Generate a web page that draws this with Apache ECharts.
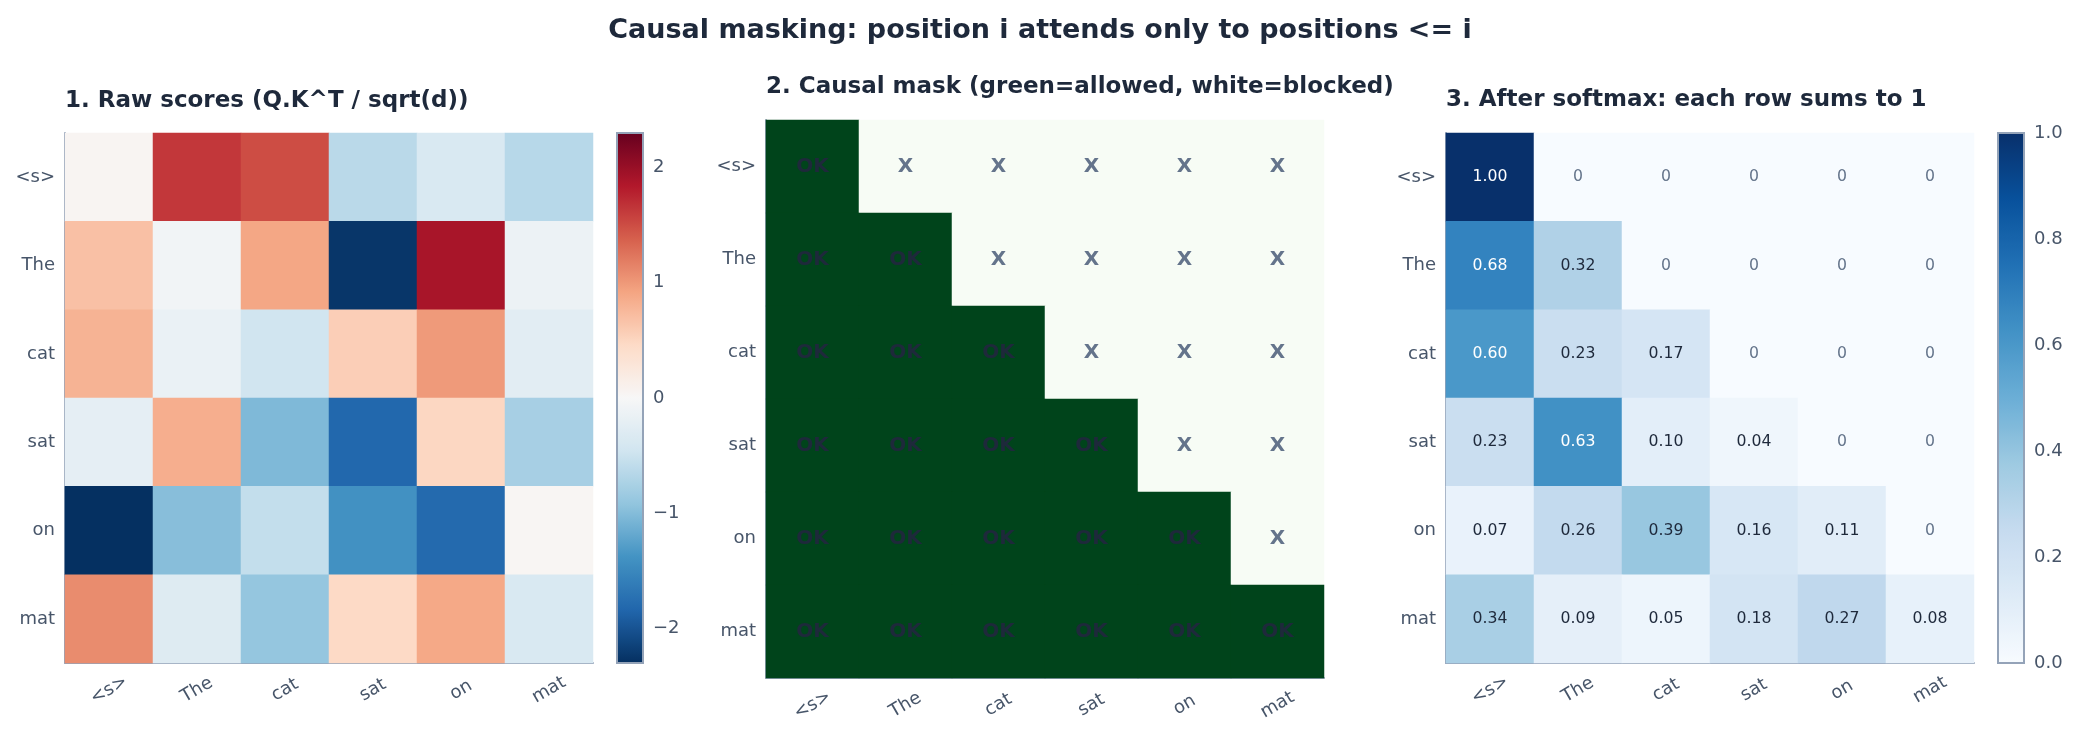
<!DOCTYPE html>
<html>
<head>
<meta charset="utf-8">
<script src="https://cdn.jsdelivr.net/npm/echarts@6/dist/echarts.min.js"></script>
<style>
html,body{margin:0;padding:0;background:#fff;}
#chart{width:2080px;height:736px;}
</style>
</head>
<body>
<div id="chart"></div>
<script>
// ---------- data ----------
const tokens = ['<s>', 'The', 'cat', 'sat', 'on', 'mat'];

const rawScores = [
  [0.05, 1.64, 1.50, -0.63, -0.36, -0.65],
  [0.69, -0.07, 0.90, -2.25, 1.90, -0.13],
  [0.80, -0.16, -0.46, 0.57, 0.99, -0.26],
  [-0.22, 0.84, -1.03, -1.82, 0.49, -0.77],
  [-2.30, -0.98, -0.56, -1.40, -1.80, 0.04],
  [1.09, -0.30, -0.90, 0.47, 0.89, -0.36]
];

const causalMask = [
  [1, 0, 0, 0, 0, 0],
  [1, 1, 0, 0, 0, 0],
  [1, 1, 1, 0, 0, 0],
  [1, 1, 1, 1, 0, 0],
  [1, 1, 1, 1, 1, 0],
  [1, 1, 1, 1, 1, 1]
];

const softmaxWeights = [
  [1.00, 0, 0, 0, 0, 0],
  [0.68, 0.32, 0, 0, 0, 0],
  [0.60, 0.23, 0.17, 0, 0, 0],
  [0.23, 0.63, 0.10, 0.04, 0, 0],
  [0.07, 0.26, 0.39, 0.16, 0.11, 0],
  [0.34, 0.09, 0.05, 0.18, 0.27, 0.08]
];

const rawColorbarTicks = [-2, -1, 0, 1, 2];
const softmaxColorbarTicks = [0, 0.2, 0.4, 0.6, 0.8, 1.0];

const mainTitle = 'Causal masking: position i attends only to positions <= i';
const panelTitles = [
  '1. Raw scores (Q.K^T / sqrt(d))',
  '2. Causal mask (green=allowed, white=blocked)',
  '3. After softmax: each row sums to 1'
];

// ---------- styles ----------
const FONT = 'DejaVu Sans';
const TITLE_C = '#1e293b';
const LABEL_C = '#475569';
const SPINE_C = '#94a3b8';
const RDBU_R = ['#053061','#2166ac','#4393c3','#92c5de','#d1e5f0','#f7f7f7','#fddbc7','#f4a582','#d6604d','#b2182b','#67001f'];
const BLUES = ['#f7fbff','#deebf7','#c6dbef','#9ecae1','#6baed6','#4292c6','#2171b5','#08519c','#08306b'];
const GREENS = ['#f7fcf5','#00441b'];
const RAW_LIM = 2.3;

const grids = [
  {left: 65, top: 133, width: 528, height: 530},   // panel 1
  {left: 617, top: 133, width: 26, height: 530, show: true, borderColor: SPINE_C, borderWidth: 2, backgroundColor: 'transparent', z: 10}, // cbar 1
  {left: 766, top: 120, width: 558, height: 558},  // panel 2
  {left: 1446, top: 133, width: 528, height: 530}, // panel 3
  {left: 1998, top: 133, width: 26, height: 530, show: true, borderColor: SPINE_C, borderWidth: 2, backgroundColor: 'transparent', z: 10} // cbar 3
];

function catX(gi) {
  return {
    type: 'category', gridIndex: gi, data: tokens,
    axisLine: {show: true, lineStyle: {color: SPINE_C, width: 2}},
    axisTick: {show: false},
    splitLine: {show: false},
    axisLabel: {rotate: 30, align: 'center', verticalAlign: 'middle', margin: 27,
      color: LABEL_C, fontFamily: FONT, fontSize: 18, interval: 0}
  };
}
function catY(gi) {
  return {
    type: 'category', gridIndex: gi, data: tokens, inverse: true,
    axisLine: {show: true, lineStyle: {color: SPINE_C, width: 2}},
    axisTick: {show: false},
    splitLine: {show: false},
    axisLabel: {margin: 10, color: LABEL_C, fontFamily: FONT, fontSize: 18, interval: 0}
  };
}
function cbX(gi) {
  return {type: 'value', gridIndex: gi, show: false, min: 0, max: 1};
}
function cbY(gi, min, max, ticks, fmt) {
  return {
    type: 'value', gridIndex: gi, min: min, max: max, position: 'right',
    axisLine: {show: false}, splitLine: {show: false},
    axisTick: {show: false},
    axisLabel: {show: true, customValues: ticks, formatter: fmt, margin: 10,
      color: LABEL_C, fontFamily: FONT, fontSize: 18}
  };
}

function matrixData(mat, itemFn) {
  const out = [];
  mat.forEach((row, r) => row.forEach((v, c) => {
    const base = {value: [c, r, v]};
    out.push(itemFn ? Object.assign(base, itemFn(v)) : base);
  }));
  return out;
}

const rawData = matrixData(rawScores);
const maskData = matrixData(causalMask, v => ({
  label: {
    show: true,
    formatter: v === 1 ? 'OK' : 'X',
    color: v === 1 ? '#1e293b' : '#64748b',
    fontWeight: 'bold', fontSize: 20, fontFamily: FONT
  }
}));
const softData = matrixData(softmaxWeights, v => ({
  label: {
    show: true,
    formatter: v === 0 ? '0' : v.toFixed(2),
    color: v === 0 ? '#64748b' : (v > 0.5 ? '#ffffff' : '#1e293b'),
    fontSize: 15.7, fontFamily: FONT
  }
}));

const option = {
  backgroundColor: '#ffffff',
  animation: false,
  title: [
    {text: mainTitle, left: 'center', top: 12, textStyle: {fontFamily: FONT, fontWeight: 'bold', color: TITLE_C, fontSize: 27, lineHeight: 27}},
    {text: panelTitles[0], left: 65, top: 90, padding: 0, textStyle: {fontFamily: FONT, fontWeight: 'bold', color: TITLE_C, fontSize: 23, lineHeight: 23}},
    {text: panelTitles[1], left: 766, top: 76, padding: 0, textStyle: {fontFamily: FONT, fontWeight: 'bold', color: TITLE_C, fontSize: 23, lineHeight: 23}},
    {text: panelTitles[2], left: 1446, top: 89, padding: 0, textStyle: {fontFamily: FONT, fontWeight: 'bold', color: TITLE_C, fontSize: 23, lineHeight: 23}}
  ],
  grid: grids,
  xAxis: [catX(0), cbX(1), catX(2), catX(3), cbX(4)],
  yAxis: [
    catY(0),
    cbY(1, -RAW_LIM, RAW_LIM, rawColorbarTicks, v => (v < 0 ? '\u2212' + Math.abs(v) : String(v))),
    catY(2),
    catY(3),
    cbY(4, 0, 1, softmaxColorbarTicks, v => Number(v).toFixed(1))
  ],
  visualMap: [
    {type: 'continuous', seriesIndex: 0, min: -RAW_LIM, max: RAW_LIM, calculable: false,
      inRange: {color: RDBU_R}, left: 617, top: 133, itemWidth: 26, itemHeight: 530,
      padding: 0, text: null, hoverLink: false},
    {type: 'continuous', seriesIndex: 1, min: 0, max: 1, show: false, inRange: {color: GREENS}},
    {type: 'continuous', seriesIndex: 2, min: 0, max: 1, calculable: false,
      inRange: {color: BLUES}, left: 1998, top: 133, itemWidth: 26, itemHeight: 530,
      padding: 0, text: null, hoverLink: false}
  ],
  series: [
    {type: 'heatmap', xAxisIndex: 0, yAxisIndex: 0, data: rawData, emphasis: {disabled: true}},
    {type: 'heatmap', xAxisIndex: 2, yAxisIndex: 2, data: maskData, emphasis: {disabled: true}},
    {type: 'heatmap', xAxisIndex: 3, yAxisIndex: 3, data: softData, emphasis: {disabled: true}}
  ]
};

const chart = echarts.init(document.getElementById('chart'), null, {renderer: 'canvas'});
chart.setOption(option);
</script>
</body>
</html>
